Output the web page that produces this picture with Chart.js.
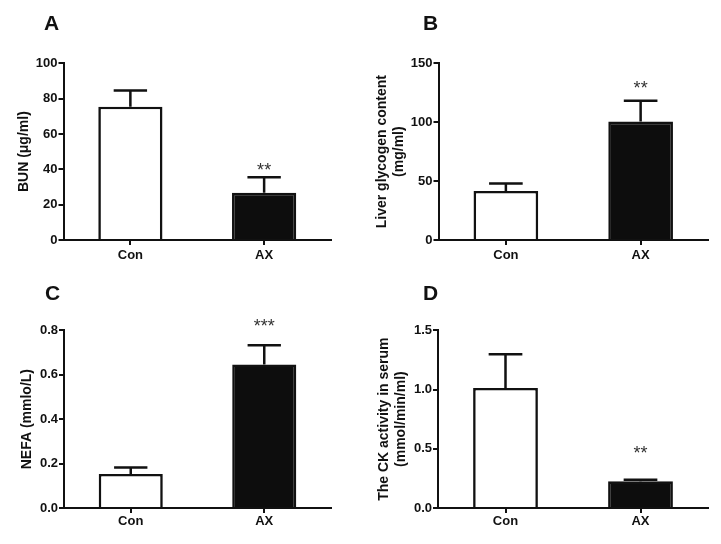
<!DOCTYPE html>
<html>
<head>
<meta charset="utf-8">
<script src="https://cdn.jsdelivr.net/npm/chart.js@4.4.1/dist/chart.umd.min.js"></script>
<style>
  html, body { margin: 0; padding: 0; background: #ffffff; }
  #wrap { position: relative; width: 721px; height: 544px; overflow: hidden; background: #fff; }
  canvas { position: absolute; }
  .lbl { position: absolute; font-family: "Liberation Sans", Arial, sans-serif; font-weight: bold; font-size: 21px; line-height: 21px; color: #111; }
</style>
</head>
<body>
<div id="wrap">
  <canvas id="cA" width="360" height="272" style="left:0px;top:0px;width:360px;height:272px"></canvas>
  <canvas id="cB" width="361" height="272" style="left:360px;top:0px;width:361px;height:272px"></canvas>
  <canvas id="cC" width="360" height="272" style="left:0px;top:272px;width:360px;height:272px"></canvas>
  <canvas id="cD" width="361" height="272" style="left:360px;top:272px;width:361px;height:272px"></canvas>
  <div class="lbl" style="left:44px;top:12px">A</div>
  <div class="lbl" style="left:423px;top:12px">B</div>
  <div class="lbl" style="left:45px;top:282px">C</div>
  <div class="lbl" style="left:423px;top:282px">D</div>
</div>
<script>
// ---- data ----
const categories = ['Con', 'AX'];

const bunMean = [75.4, 26.8];
const bunSem  = [9.2, 8.7];
const bunSig  = ['', '**'];
const bunSigAt = [null, 42.4];

const glyMean = [41.6, 100.5];
const glySem  = [6.3, 17.7];
const glySig  = ['', '**'];
const glySigAt = [null, 133];

const nefaMean = [0.153, 0.646];
const nefaSem  = [0.029, 0.087];
const nefaSig  = ['', '***'];
const nefaSigAt = [null, 0.838];

const ckMean = [1.013, 0.225];
const ckSem  = [0.284, 0.013];
const ckSig  = ['', '**'];
const ckSigAt = [null, 0.502];

const bunTicks  = [0, 20, 40, 60, 80, 100];
const glyTicks  = [0, 50, 100, 150];
const nefaTicks = [0.0, 0.2, 0.4, 0.6, 0.8];
const ckTicks   = [0.0, 0.5, 1.0, 1.5];

const bunTitle  = 'BUN (\u03bcg/ml)';
const glyTitle  = ['Liver glycogen content', '(mg/ml)'];
const nefaTitle = 'NEFA (mmlo/L)';
const ckTitle   = ['The CK activity in serum', '(mmol/min/ml)'];

// ---- rendering ----
const FONT = '"Liberation Sans", Arial, sans-serif';
const INK = '#111111';

const errPlugin = {
  id: 'errbars',
  afterDatasetsDraw(chart, args, opts) {
    const ctx = chart.ctx;
    const meta = chart.getDatasetMeta(0);
    const ys = chart.scales.y;
    const ds = chart.data.datasets[0];
    ctx.save();
    meta.data.forEach((el, i) => {
      const top = ys.getPixelForValue(ds.data[i] + opts.sem[i]);
      const half = el.width * 0.26;
      ctx.strokeStyle = INK;
      ctx.lineWidth = 2.5;
      ctx.lineCap = 'butt';
      ctx.beginPath();
      ctx.moveTo(el.x, el.y);
      ctx.lineTo(el.x, top);
      ctx.moveTo(el.x - half, top);
      ctx.lineTo(el.x + half, top);
      ctx.stroke();
      if (opts.sig[i]) {
        ctx.fillStyle = '#333333';
        ctx.font = '18px ' + FONT;
        ctx.textAlign = 'center';
        ctx.textBaseline = 'alphabetic';
        ctx.fillText(opts.sig[i], el.x, ys.getPixelForValue(opts.sigAt[i]) + 10.5);
      }
    });
    ctx.restore();
  }
};

function makeChart(id, cfg) {
  const ticksVals = cfg.ticks;
  new Chart(document.getElementById(id), {
    type: 'bar',
    data: {
      labels: categories,
      datasets: [{
        data: cfg.mean,
        backgroundColor: ['#ffffff', '#0d0d0d'],
        borderColor: INK,
        borderWidth: 2.6,
        borderSkipped: 'start',
        barPercentage: 0.48,
        categoryPercentage: 1.0
      }]
    },
    options: {
      responsive: false,
      animation: false,
      devicePixelRatio: 1,
      layout: { padding: { top: cfg.top, right: cfg.right, bottom: 0, left: 0 } },
      plugins: {
        legend: { display: false },
        tooltip: { enabled: false },
        errbars: { sem: cfg.sem, sig: cfg.sig, sigAt: cfg.sigAt }
      },
      scales: {
        x: {
          afterFit: (s) => { s.height = cfg.xh; },
          grid: { display: true, offset: false, drawOnChartArea: false, drawTicks: true, tickLength: 5, color: INK, lineWidth: 2 },
          border: { display: true, color: INK, width: 2 },
          ticks: { color: INK, padding: cfg.xpad, font: { family: FONT, size: 13, weight: 'bold' } }
        },
        y: {
          min: ticksVals[0],
          max: ticksVals[ticksVals.length - 1],
          afterFit: (s) => { s.width = cfg.yw; },
          afterBuildTicks: (s) => { s.ticks = ticksVals.map(v => ({ value: v })); },
          grid: { display: true, drawOnChartArea: false, drawTicks: true, tickLength: 5, color: INK, lineWidth: 2 },
          border: { display: true, color: INK, width: 2 },
          ticks: {
            color: INK, padding: 1,
            font: { family: FONT, size: 13, weight: 'bold' },
            callback: (v) => cfg.dec ? Number(v).toFixed(1) : String(v)
          },
          title: {
            display: true, text: cfg.title, color: INK,
            font: { family: FONT, size: 14, weight: 'bold', lineHeight: 1.2 },
            padding: { top: cfg.tpad, bottom: 0 }
          }
        }
      }
    },
    plugins: [errPlugin]
  });
}

makeChart('cA', { mean: bunMean, sem: bunSem, sig: bunSig, sigAt: bunSigAt, ticks: bunTicks, title: bunTitle,
  top: 63.3, right: 29, xh: 32, xpad: 3, yw: 63.5, tpad: 15.5, dec: false });
makeChart('cB', { mean: glyMean, sem: glySem, sig: glySig, sigAt: glySigAt, ticks: glyTicks, title: glyTitle,
  top: 63.3, right: 13, xh: 32, xpad: 3, yw: 78.5, tpad: 14, dec: false });
makeChart('cC', { mean: nefaMean, sem: nefaSem, sig: nefaSig, sigAt: nefaSigAt, ticks: nefaTicks, title: nefaTitle,
  top: 58.3, right: 29, xh: 36, xpad: 1, yw: 64, tpad: 19, dec: true });
makeChart('cD', { mean: ckMean, sem: ckSem, sig: ckSig, sigAt: ckSigAt, ticks: ckTicks, title: ckTitle,
  top: 58.3, right: 13, xh: 36, xpad: 1, yw: 78, tpad: 16, dec: true });
</script>
</body>
</html>
